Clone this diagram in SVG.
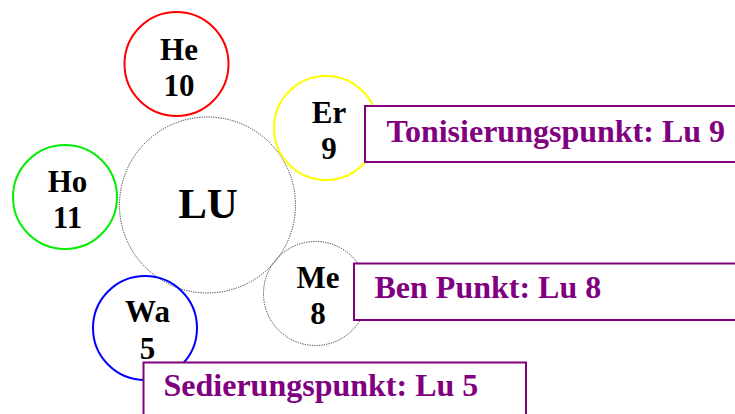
<svg xmlns="http://www.w3.org/2000/svg" width="735" height="414" viewBox="0 0 735 414">
<style>
.c{fill:none;stroke-width:2}
.d{fill:none;stroke:#333;stroke-width:1;stroke-dasharray:1.2 1.2}
.t{font-family:"Liberation Serif","Times New Roman",serif;font-weight:bold;font-size:31px;fill:#000;text-anchor:middle}
.big{font-size:43px}
.box{fill:#fff;stroke:#800080;stroke-width:2}
.bt{font-family:"Liberation Serif","Times New Roman",serif;font-weight:bold;font-size:32px;fill:#800080}
</style>
<rect width="735" height="414" fill="#fff"/>
<g id="LU"><circle class="d" cx="207.5" cy="205" r="88"/><text class="t big" x="208" y="218">LU</text></g>
<g id="He"><circle class="c" stroke="#ff0000" cx="176.5" cy="64" r="52"/><text class="t" x="179" y="60">He</text><text class="t" x="179" y="96">10</text></g>
<g id="Er"><circle class="c" stroke="#ffff00" cx="326" cy="128" r="52"/><text class="t" x="329" y="123">Er</text><text class="t" x="329" y="159">9</text></g>
<g id="Ho"><circle class="c" stroke="#00ee00" cx="65" cy="197" r="52"/><text class="t" x="67.5" y="192">Ho</text><text class="t" x="67.5" y="228">11</text></g>
<g id="Me"><circle class="d" cx="315.5" cy="293.5" r="52"/><text class="t" x="318" y="288">Me</text><text class="t" x="318" y="324">8</text></g>
<g id="Wa"><circle class="c" stroke="#0000ff" cx="145" cy="328" r="52"/><text class="t" x="147.5" y="322">Wa</text><text class="t" x="147.5" y="359">5</text></g>
<g id="box-tonisierung"><rect class="box" x="365" y="106" width="380" height="56"/><text class="bt" x="386.5" y="142">Tonisierungspunkt: Lu 9</text></g>
<g id="box-ben"><rect class="box" x="354" y="263.5" width="390" height="56.5"/><text class="bt" x="374.5" y="298">Ben Punkt: Lu 8</text></g>
<g id="box-sedierung"><rect class="box" x="143.5" y="362.5" width="382.5" height="60"/><text class="bt" x="163.5" y="396">Sedierungspunkt: Lu 5</text></g>
<g id="connectors"/>
</svg>
